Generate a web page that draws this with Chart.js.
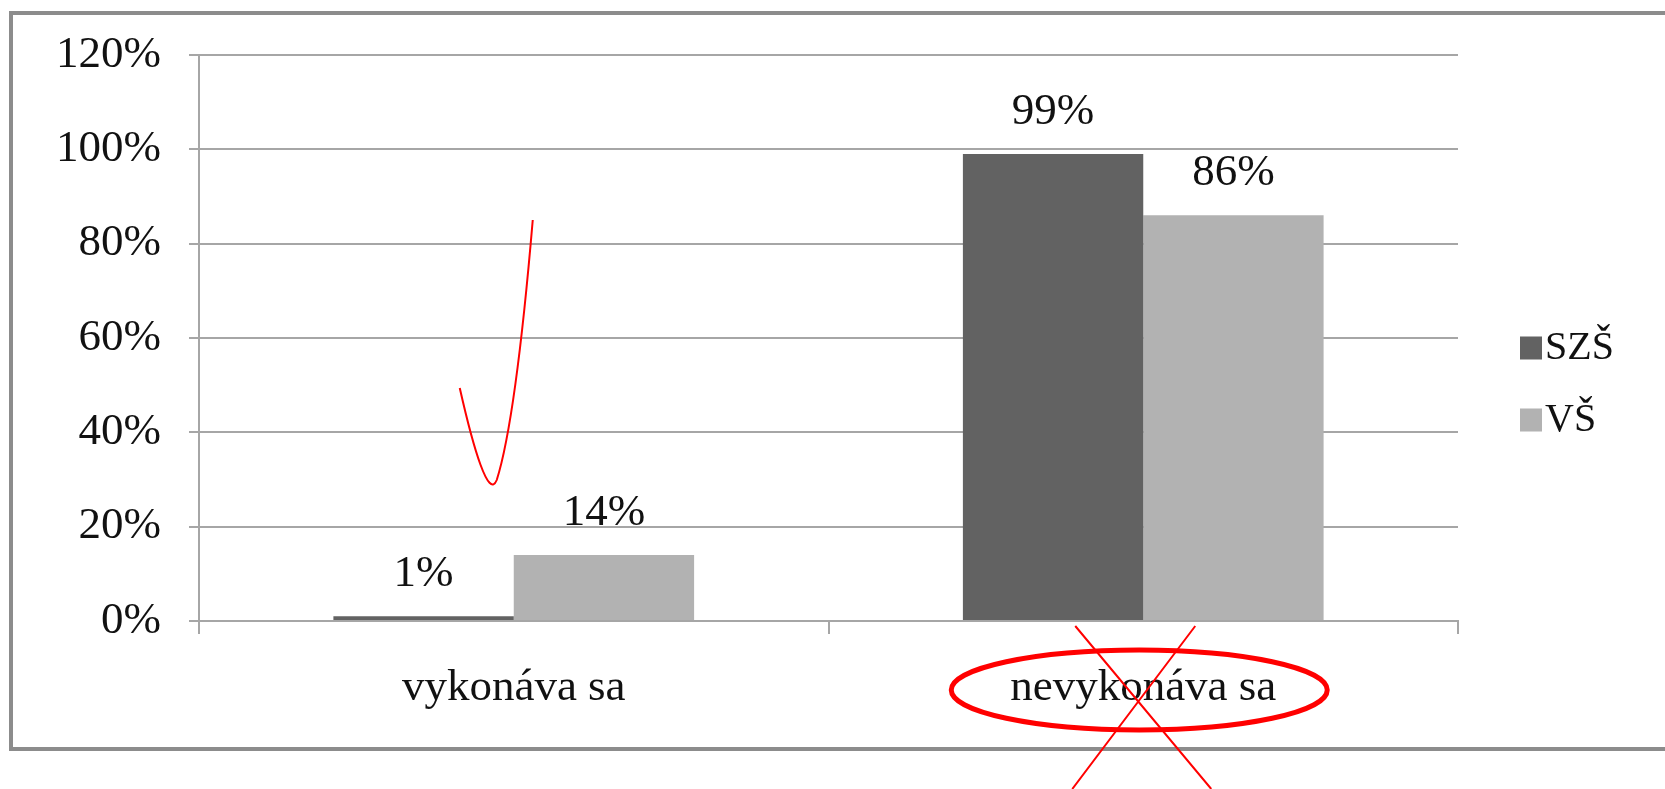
<!DOCTYPE html>
<html>
<head>
<meta charset="utf-8">
<script src="https://cdn.jsdelivr.net/npm/chart.js@4.4.1/dist/chart.umd.min.js"></script>
<style>
html, body { margin: 0; padding: 0; background: #fff; }
#wrap { width: 1665px; height: 789px; position: relative; }
</style>
</head>
<body>
<div id="wrap"><canvas id="myChart"></canvas></div>
<script>
// data
const categories = ['vykonáva sa', 'nevykonáva sa'];
const seriesNames = ['SZŠ', 'VŠ'];
const szsValues = [1, 99];
const vsValues = [14, 86];
const yTicks = [0, 20, 40, 60, 80, 100, 120];
const seriesColors = ['#626262', '#b2b2b2'];

const serif = "'Liberation Serif', 'Times New Roman', serif";
Chart.defaults.font.family = serif;
Chart.defaults.color = '#111';

// value labels above the bars
const valueLabels = {
	id: 'valueLabels',
	afterDatasetsDraw(chart) {
		const ctx = chart.ctx;
		ctx.save();
		ctx.font = '45px ' + serif;
		ctx.fillStyle = '#111';
		ctx.textAlign = 'center';
		ctx.textBaseline = 'middle';
		chart.data.datasets.forEach((ds, i) => {
			chart.getDatasetMeta(i).data.forEach((bar, j) => {
				ctx.fillText(ds.data[j] + '%', bar.x, bar.y - 42);
			});
		});
		ctx.restore();
	}
};

// legend on the right, drawn from the datasets
const sideLegend = {
	id: 'sideLegend',
	afterDraw(chart) {
		const ctx = chart.ctx;
		const area = chart.chartArea;
		const left = area.right + 62;
		let y = chart.height / 2 - 47;
		ctx.save();
		ctx.font = '40px ' + serif;
		ctx.textBaseline = 'middle';
		ctx.textAlign = 'left';
		chart.data.datasets.forEach(ds => {
			ctx.fillStyle = ds.backgroundColor;
			ctx.fillRect(left, y - 11, 22, 23);
			ctx.fillStyle = '#111';
			ctx.fillText(ds.label, left + 25, y + 1);
			y += 72;
		});
		ctx.restore();
	}
};

// outer frame + the red pen marks drawn over the chart
const annotations = {
	id: 'annotations',
	afterDraw(chart) {
		const ctx = chart.ctx;
		const x = chart.scales.x;
		const area = chart.chartArea;
		ctx.save();
		// frame
		ctx.strokeStyle = '#8c8c8c';
		ctx.lineWidth = 4;
		ctx.strokeRect(11, 13, 1700, 736);

		// check mark near first category
		const cx0 = x.getPixelForValue(0);
		ctx.strokeStyle = '#ff0000';
		ctx.lineWidth = 2;
		ctx.beginPath();
		ctx.moveTo(cx0 - 54, 388);
		ctx.bezierCurveTo(cx0 - 40, 450, cx0 - 25, 500, cx0 - 17, 480);
		ctx.quadraticCurveTo(cx0 + 2, 420, cx0 + 19, 220);
		ctx.stroke();

		// ellipse round second label
		const cx1 = x.getPixelForValue(1);
		ctx.lineWidth = 5;
		ctx.beginPath();
		ctx.ellipse(cx1 - 4, 690, 188, 40, 0, 0, Math.PI * 2);
		ctx.stroke();

		// cross
		ctx.lineWidth = 2;
		ctx.beginPath();
		ctx.moveTo(cx1 - 68, area.bottom + 5);
		ctx.lineTo(cx1 + 68, 789);
		ctx.moveTo(cx1 + 52, area.bottom + 5);
		ctx.lineTo(cx1 - 71, 789);
		ctx.stroke();
		ctx.restore();
	}
};

const config = {
	type: 'bar',
	data: {
		labels: categories,
		datasets: [
			{ label: seriesNames[0], data: szsValues, backgroundColor: seriesColors[0] },
			{ label: seriesNames[1], data: vsValues, backgroundColor: seriesColors[1] }
		]
	},
	options: {
		responsive: true,
		maintainAspectRatio: false,
		animation: false,
		datasets: {
			bar: { categoryPercentage: 0.573, barPercentage: 1.0 }
		},
		layout: {
			padding: { top: 30, right: 207, bottom: 47, left: 0 }
		},
		plugins: {
			tooltip: { enabled: false },
			legend: { display: false }
		},
		scales: {
			x: {
				grid: {
					display: true,
					drawOnChartArea: false,
					drawTicks: true,
					tickLength: 13,
					color: '#a6a6a6',
					lineWidth: 2
				},
				border: { color: '#a6a6a6', width: 2 },
				ticks: {
					padding: 27,
					font: { size: 45, family: serif },
					color: '#111'
				}
			},
			y: {
				min: 0,
				max: 120,
				afterBuildTicks: axis => { axis.ticks = yTicks.map(v => ({ value: v })); },
				afterFit: axis => { axis.width = 199; },
				grid: {
					color: '#a6a6a6',
					lineWidth: 2,
					tickLength: 10
				},
				border: { color: '#a6a6a6', width: 2 },
				ticks: {
					padding: 28,
					font: { size: 45, family: serif },
					color: '#111',
					callback: v => v + '%'
				}
			}
		}
	},
	plugins: [valueLabels, sideLegend, annotations]
};

const chartt = new Chart(document.getElementById('myChart'), config);
</script>
</body>
</html>
